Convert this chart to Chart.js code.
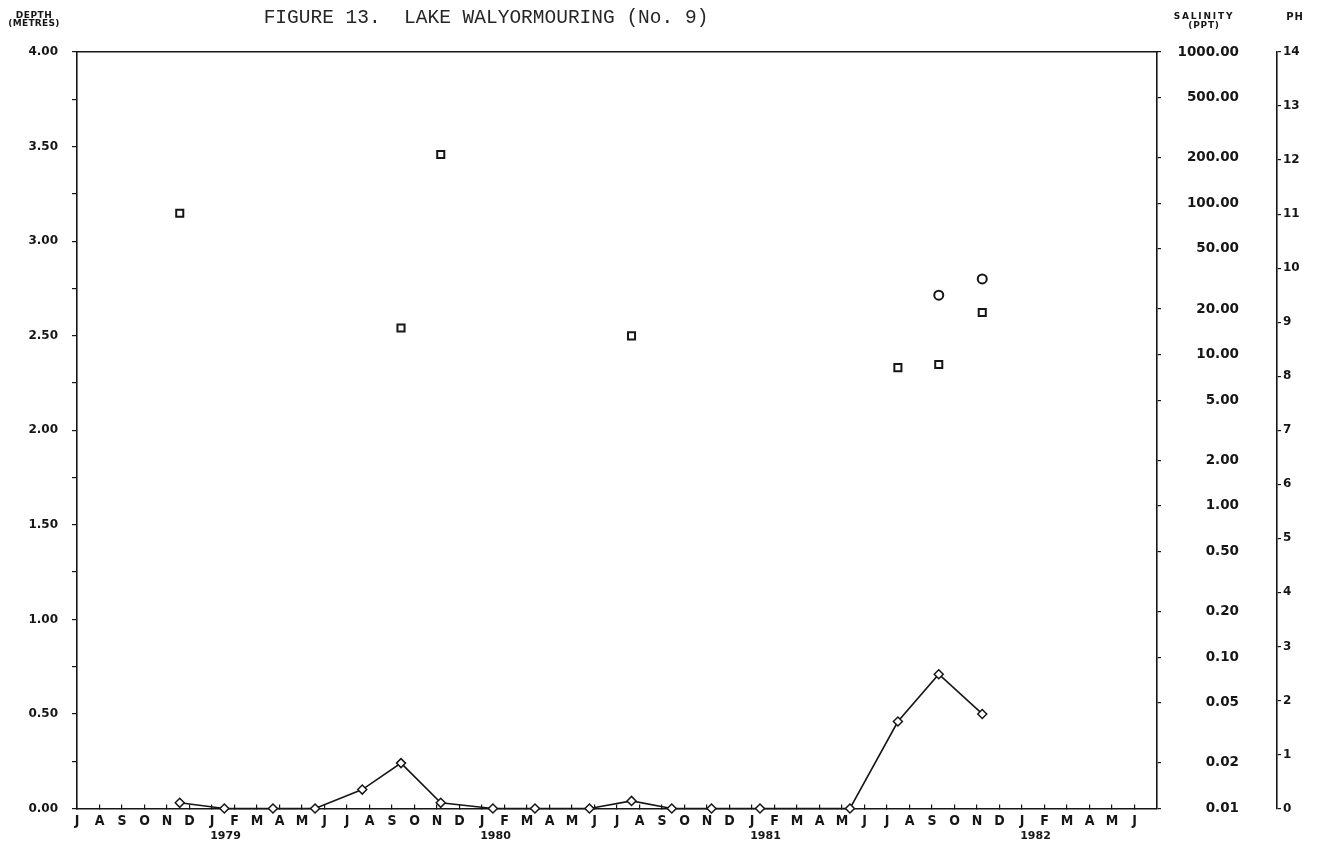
<!DOCTYPE html>
<html>
<head>
<meta charset="utf-8">
<title>Figure 13. Lake Walyormouring (No. 9)</title>
<script src="https://cdn.jsdelivr.net/npm/chart.js@4.4.1/dist/chart.umd.min.js"></script>
<style>
  html, body { margin: 0; padding: 0; background: #ffffff; }
  canvas { display: block; }
</style>
</head>
<body>
<canvas id="lakeChart" width="1322" height="845"></canvas>
<script>
// Month initials along the time axis, July 1978 to June 1982
const monthLetters = [
  'J','A','S','O','N','D',
  'J','F','M','A','M','J','J','A','S','O','N','D',
  'J','F','M','A','M','J','J','A','S','O','N','D',
  'J','F','M','A','M','J','J','A','S','O','N','D',
  'J','F','M','A','M','J'
];
const yearLabels = ['1979', '1980', '1981', '1982'];

// Water depth (metres) at each sampling visit
const depthDates = [
  '1978-11-18', '1979-01-18', '1979-03-23', '1979-05-19', '1979-07-22',
  '1979-09-13', '1979-11-06', '1980-01-16', '1980-03-12', '1980-05-25',
  '1980-07-21', '1980-09-14', '1980-11-07', '1981-01-12', '1981-05-12',
  '1981-07-16', '1981-09-10', '1981-11-08'
];
const depthValues = [
  0.03, 0.00, 0.00, 0.00, 0.10,
  0.24, 0.03, 0.00, 0.00, 0.00,
  0.04, 0.00, 0.00, 0.00, 0.00,
  0.46, 0.71, 0.50
];

// Salinity (parts per thousand)
const salinityDates = [
  '1978-11-18', '1979-09-13', '1979-11-06', '1980-07-21',
  '1981-07-16', '1981-09-10', '1981-11-08'
];
const salinityValues = [86, 15, 210, 13.3, 8.2, 8.6, 19];

// pH
const phDates = ['1981-09-10', '1981-11-08'];
const phValues = [9.5, 9.8];

// Axis ticks
const depthMajorTicks = [0, 0.5, 1, 1.5, 2, 2.5, 3, 3.5, 4];
const salinityTicks = [0.01, 0.02, 0.05, 0.1, 0.2, 0.5, 1, 2, 5, 10, 20, 50, 100, 200, 500, 1000];
const phTicks = [0, 1, 2, 3, 4, 5, 6, 7, 8, 9, 10, 11, 12, 13, 14];

// Months elapsed since 1 July 1978, with the day as a fraction of the month
function monthOffset(iso) {
  const [y, m, d] = iso.split('-').map(Number);
  const daysInMonth = new Date(y, m, 0).getDate();
  return (y - 1978) * 12 + (m - 7) + (d - 1) / daysInMonth;
}
function toPoints(dates, values) {
  return dates.map((d, i) => ({ x: monthOffset(d), y: values[i] }));
}
// Each year label sits under its January / February pair
function yearPosition(label) {
  return monthOffset(label + '-01-01') + 0.6;
}

const INK = '#161616';
const SANS = "'DejaVu Sans', 'Noto Sans', sans-serif";
const COND = "'DejaVu Sans Condensed', 'DejaVu Sans', sans-serif";

// Headings printed around the plot frame
const pageText = {
  id: 'pageText',
  afterDraw(chart, args, opts) {
    const c = chart.ctx;
    c.save();
    for (const it of opts.items) {
      c.font = it.font;
      c.fillStyle = it.color || INK;
      c.textAlign = 'center';
      c.textBaseline = 'middle';
      if ('letterSpacing' in c) c.letterSpacing = it.spacing || '0px';
      c.fillText(it.text, it.x, it.y);
    }
    c.restore();
  }
};

new Chart(document.getElementById('lakeChart'), {
  type: 'line',
  data: {
    datasets: [
      {
        label: 'Depth',
        data: toPoints(depthDates, depthValues),
        xAxisID: 'x',
        yAxisID: 'yDepth',
        borderColor: INK,
        borderWidth: 1.6,
        tension: 0,
        pointStyle: 'rectRot',
        pointRadius: 4.5,
        pointBackgroundColor: '#ffffff',
        pointBorderColor: INK,
        pointBorderWidth: 1.5,
        clip: false
      },
      {
        label: 'Salinity',
        data: toPoints(salinityDates, salinityValues),
        xAxisID: 'x',
        yAxisID: 'ySal',
        showLine: false,
        pointStyle: 'rect',
        pointRadius: 5,
        pointBackgroundColor: '#ffffff',
        pointBorderColor: INK,
        pointBorderWidth: 2,
        clip: false
      },
      {
        label: 'pH',
        data: toPoints(phDates, phValues),
        xAxisID: 'x',
        yAxisID: 'yPh',
        showLine: false,
        pointStyle: 'circle',
        pointRadius: 4.5,
        pointBackgroundColor: '#ffffff',
        pointBorderColor: INK,
        pointBorderWidth: 2,
        clip: false
      }
    ]
  },
  options: {
    responsive: false,
    animation: false,
    devicePixelRatio: 1,
    layout: { padding: { top: 52, left: 0, right: 0, bottom: 0 } },
    plugins: {
      legend: { display: false },
      tooltip: { enabled: false },
      pageText: {
        items: [
          { text: 'FIGURE 13.  LAKE WALYORMOURING (No. 9)', x: 486, y: 18,
            font: "19.5px 'Liberation Mono', 'DejaVu Sans Mono', monospace", color: '#262626' },
          { text: 'DEPTH', x: 34, y: 16, font: 'bold 9px ' + SANS, spacing: '0.5px' },
          { text: '(METRES)', x: 34, y: 24, font: 'bold 9px ' + SANS, spacing: '0.3px' },
          { text: 'SALINITY', x: 1204, y: 17, font: 'bold 9px ' + SANS, spacing: '1.8px' },
          { text: '(PPT)', x: 1204, y: 26, font: 'bold 9px ' + SANS, spacing: '0.8px' },
          { text: 'PH', x: 1295, y: 17, font: 'bold 10px ' + SANS, spacing: '1px' }
        ]
      }
    },
    scales: {
      x: {
        type: 'linear',
        position: 'bottom',
        weight: 0,
        min: 0,
        max: 48,
        afterBuildTicks: s => { s.ticks = monthLetters.map((_, i) => ({ value: i })); },
        afterFit: s => { s.height = 20; },
        ticks: {
          autoSkip: false,
          maxRotation: 0,
          minRotation: 0,
          padding: 8,
          color: INK,
          font: { family: COND, weight: 'bold', size: 14 },
          callback: (v, i) => monthLetters[i]
        },
        grid: { drawOnChartArea: false, tickLength: -4, color: INK, lineWidth: 1.2 },
        border: { color: INK, width: 1.6 }
      },
      xYear: {
        type: 'linear',
        axis: 'x',
        position: 'bottom',
        weight: 1,
        min: 0,
        max: 48,
        afterBuildTicks: s => { s.ticks = yearLabels.map(y => ({ value: yearPosition(y) })); },
        afterFit: s => { s.height = 16.5; },
        ticks: {
          autoSkip: false,
          maxRotation: 0,
          minRotation: 0,
          padding: 1,
          color: INK,
          font: { family: SANS, weight: 'bold', size: 11 },
          callback: (v, i) => yearLabels[i]
        },
        grid: { display: false, drawTicks: false },
        border: { display: false }
      },
      xTop: {
        type: 'linear',
        axis: 'x',
        position: 'top',
        min: 0,
        max: 48,
        afterFit: s => { s.height = 0; },
        ticks: { display: false },
        grid: { display: false, drawTicks: false },
        border: { color: INK, width: 1.6 }
      },
      yDepth: {
        type: 'linear',
        position: 'left',
        min: 0,
        max: 4,
        afterBuildTicks: s => {
          const t = [];
          for (let i = 0; i < depthMajorTicks.length; i++) {
            t.push({ value: depthMajorTicks[i] });
            if (i < depthMajorTicks.length - 1) {
              t.push({ value: (depthMajorTicks[i] + depthMajorTicks[i + 1]) / 2 });
            }
          }
          s.ticks = t;
        },
        afterFit: s => { s.width = 77; },
        ticks: {
          padding: 14,
          color: INK,
          font: { family: SANS, weight: 'bold', size: 12 },
          callback: v => depthMajorTicks.includes(v) ? v.toFixed(2) : ''
        },
        grid: { drawOnChartArea: false, tickLength: 5, color: INK, lineWidth: 1.2 },
        border: { color: INK, width: 1.6 }
      },
      ySal: {
        type: 'logarithmic',
        position: 'right',
        weight: 0,
        min: 0.01,
        max: 1000,
        afterBuildTicks: s => { s.ticks = salinityTicks.map(v => ({ value: v })); },
        afterFit: s => { s.width = 82; },
        ticks: {
          crossAlign: 'far',
          padding: 8,
          color: INK,
          font: { family: SANS, weight: 'bold', size: 13.5 },
          callback: v => Number(v).toFixed(2)
        },
        grid: { drawOnChartArea: false, tickLength: 4, color: INK, lineWidth: 1.2 },
        border: { color: INK, width: 1.6 }
      },
      // blank gutter between the salinity labels and the pH scale
      yGap: {
        type: 'linear',
        position: 'right',
        weight: 1,
        min: 0,
        max: 1,
        afterFit: s => { s.width = 38; },
        ticks: { display: false },
        grid: { display: false, drawTicks: false },
        border: { display: false }
      },
      yPh: {
        type: 'linear',
        position: 'right',
        weight: 2,
        min: 0,
        max: 14,
        afterBuildTicks: s => { s.ticks = phTicks.map(v => ({ value: v })); },
        afterFit: s => { s.width = 45; },
        ticks: {
          crossAlign: 'near',
          padding: 2,
          color: INK,
          font: { family: SANS, weight: 'bold', size: 12 },
          callback: v => String(v)
        },
        grid: { drawOnChartArea: false, tickLength: 4, color: INK, lineWidth: 1.2 },
        border: { color: INK, width: 1.6 }
      }
    }
  },
  plugins: [pageText]
});
</script>
</body>
</html>
